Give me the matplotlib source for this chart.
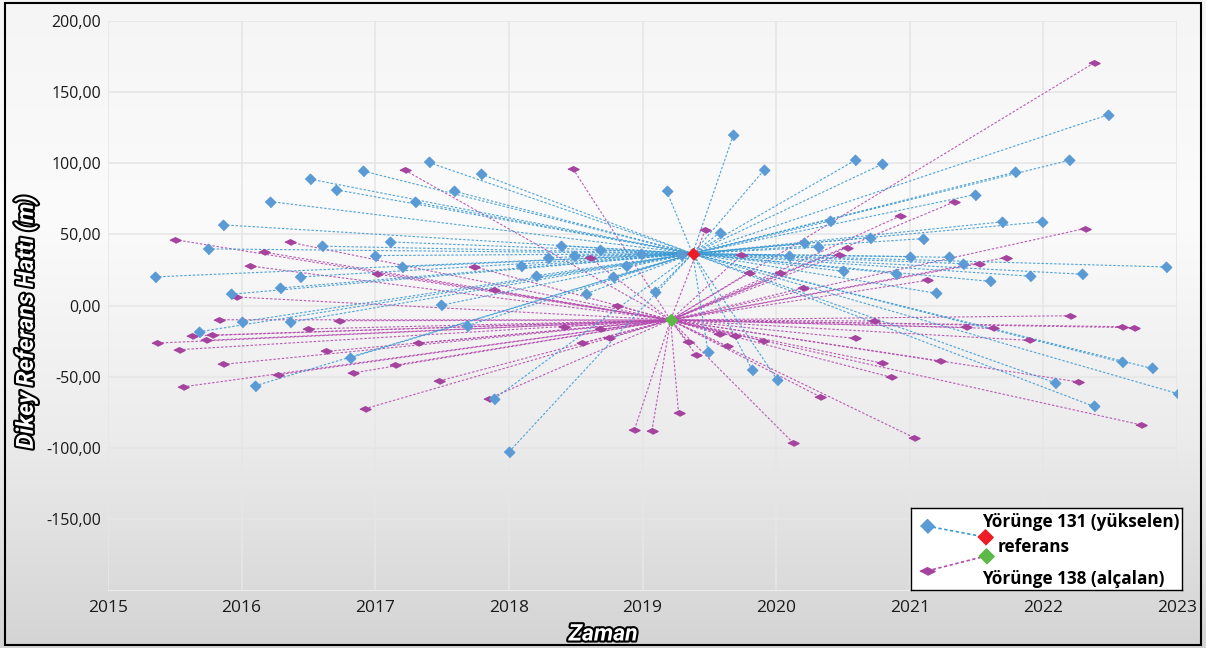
import matplotlib
import matplotlib.pyplot as plt
import matplotlib.patheffects as pe
import numpy as np
from matplotlib.collections import LineCollection
from matplotlib.colors import LinearSegmentedColormap
from matplotlib.patches import Rectangle
from matplotlib.ticker import FuncFormatter

matplotlib.use("Agg")

# reference acquisitions (decimal year, perpendicular baseline m)
ref131 = (2019.375, 36.5)
ref138 = (2019.21, -10.2)

# Yörünge 131 (yükselen)
t131 = [2017.40, 2016.91, 2017.79, 2016.51, 2016.71, 2017.59, 2017.30, 2016.21, 2015.86, 2017.11,
        2016.60, 2015.75, 2017.00, 2017.20, 2015.35, 2016.44, 2016.29, 2015.92, 2017.49, 2016.00,
        2016.36, 2017.69, 2015.68, 2016.81, 2016.10, 2017.89, 2019.68, 2019.91, 2019.18, 2020.40,
        2019.58, 2018.39, 2018.68, 2018.29, 2018.49, 2018.99, 2019.29, 2020.21, 2020.31, 2020.10,
        2018.09, 2018.88, 2018.20, 2018.78, 2020.50, 2018.58, 2019.09, 2019.49, 2019.82, 2020.01,
        2018.00, 2022.48, 2020.59, 2020.79, 2022.19, 2021.79, 2021.49, 2021.69, 2021.99, 2020.70,
        2021.10, 2021.00, 2021.29, 2021.40, 2022.92, 2020.90, 2021.60, 2021.90, 2022.29, 2021.20,
        2022.59, 2022.81, 2022.09, 2023.01, 2022.38]
b131 = [100.6, 94.5, 92.4, 88.9, 81.3, 80.4, 72.7, 73.1, 56.7, 44.7,
        41.7, 39.8, 35.1, 27.1, 20.1, 20.1, 12.3, 7.9, 0.1, -11.4,
        -11.8, -14.2, -18.5, -36.8, -56.5, -65.6, 119.9, 95.2, 80.6, 59.3,
        51.3, 41.9, 39.3, 33.7, 35.1, 36.5, 35.4, 43.8, 41.0, 35.1,
        27.8, 28.0, 21.0, 20.3, 24.1, 8.3, 9.7, -32.5, -45.4, -52.5,
        -103.0, 133.9, 102.0, 99.2, 102.0, 93.8, 78.0, 58.8, 58.8, 47.7,
        47.0, 34.4, 33.9, 29.4, 27.1, 22.4, 17.0, 20.6, 22.0, 8.6,
        -40.0, -44.2, -54.4, -62.1, -71.0]

# Yörünge 138 (alçalan)
t138 = [2017.22, 2015.50, 2016.36, 2016.17, 2016.06, 2017.74, 2017.01, 2017.89, 2015.96, 2015.83,
        2016.73, 2016.50, 2015.63, 2015.78, 2015.73, 2015.37, 2015.53, 2017.32, 2016.63, 2015.86,
        2017.15, 2016.27, 2016.83, 2015.56, 2017.48, 2017.85, 2016.92, 2018.48, 2019.47, 2019.74,
        2020.53, 2020.47, 2018.61, 2019.80, 2020.03, 2020.20, 2018.81, 2018.41, 2018.68, 2018.75,
        2018.55, 2019.34, 2019.57, 2019.69, 2019.90, 2019.63, 2019.40, 2020.33, 2019.27, 2018.94,
        2019.07, 2020.13, 2022.38, 2021.33, 2020.93, 2022.31, 2021.72, 2021.52, 2021.13, 2022.20,
        2020.73, 2021.42, 2021.62, 2022.59, 2022.68, 2020.59, 2021.89, 2021.23, 2020.79, 2020.86,
        2022.26, 2022.73, 2021.03]
b138 = [95.2, 46.3, 44.5, 37.5, 27.8, 27.3, 22.2, 10.7, 6.0, -10.0,
        -10.7, -16.5, -21.3, -21.0, -24.5, -26.4, -31.1, -26.6, -32.3, -41.4,
        -41.9, -48.7, -47.5, -57.2, -53.0, -65.4, -72.7, 96.1, 53.2, 35.4,
        40.7, 35.6, 33.2, 22.9, 22.9, 12.3, -0.1, -14.9, -16.8, -23.1,
        -26.4, -25.5, -20.1, -21.5, -24.8, -28.3, -34.6, -64.2, -75.9, -87.2,
        -88.2, -96.8, 170.6, 72.7, 63.0, 54.1, 33.7, 29.4, 17.7, -7.2,
        -10.9, -15.4, -16.1, -14.9, -15.6, -23.1, -24.5, -39.3, -40.5, -50.4,
        -53.7, -83.9, -92.8]

years = list(range(2015, 2024))
y_ticks = [-150, -100, -50, 0, 50, 100, 150, 200]

BLUE = "#5b9bd5"
BLUE_LINE = "#3b9ad4"
PURPLE = "#a5439f"
PURPLE_LINE = "#b44aae"
DIAMOND = [(-1, 0), (0, 1), (1, 0), (0, -1)]
FLAT_DIAMOND = [(-1, 0), (0, 0.5), (1, 0), (0, -0.5)]

plt.rcParams["font.family"] = ["Open Sans", "DejaVu Sans"]

W, H = 1206, 648
fig = plt.figure(figsize=(W / 100, H / 100), dpi=100)

# grey gradient behind everything
bg = fig.add_axes([0, 0, 1, 1], zorder=-10)
grad = np.linspace(0, 1, 256).reshape(-1, 1)
cmap = LinearSegmentedColormap.from_list("bg", ["#d4d4d4", "#ececec", "#fbfbfb", "#f5f5f5"])
bg.imshow(grad, aspect="auto", cmap=cmap, extent=[0, 1, 0, 1], origin="lower")
bg.axis("off")

ax = fig.add_axes([108 / W, 1 - 590 / H, (1177 - 108) / W, (590 - 21) / H])
ax.patch.set_alpha(0)
ax.set_xlim(2015, 2023)
ax.set_ylim(-200, 200)
ax.set_xticks(years)
ax.set_yticks(y_ticks)
ax.yaxis.set_major_formatter(FuncFormatter(lambda v, _: f"{v:.2f}".replace(".", ",")))
ax.grid(color="#e6e6e6", lw=1.2)
ax.set_axisbelow(True)
for side in ["top", "right", "left"]:
    ax.spines[side].set_visible(False)
ax.spines["bottom"].set_color("#ececec")
ax.tick_params(length=0, colors="#1a1a1a")
ax.tick_params(axis="x", labelsize=12.5, pad=7)
ax.tick_params(axis="y", labelsize=11.5, pad=5)

seg131 = [[(t, b), ref131] for t, b in zip(t131, b131)]
seg138 = [[(t, b), ref138] for t, b in zip(t138, b138)]
ax.add_collection(LineCollection(seg138, colors=PURPLE_LINE, linewidths=0.8,
                                 linestyles=[(0, (2.2, 1.6))], alpha=0.9, zorder=2))
ax.add_collection(LineCollection(seg131, colors=BLUE_LINE, linewidths=0.8,
                                 linestyles=[(0, (2.2, 1.6))], alpha=0.9, zorder=2))

ax.plot(t138, b138, ls="none", marker=FLAT_DIAMOND, ms=8, color=PURPLE, mec=PURPLE, zorder=3)
ax.plot(t131, b131, ls="none", marker=DIAMOND, ms=7.5, color=BLUE, mec=BLUE, zorder=4)
ax.plot(*ref131, ls="none", marker=DIAMOND, ms=8.5, color="#ee1c25", zorder=5)
ax.plot(*ref138, ls="none", marker=DIAMOND, ms=8.5, color="#5cb946", zorder=5)

outline = [pe.withStroke(linewidth=3, foreground="black")]
fig.text(26 / W, 1 - 322 / H, "Dikey Referans Hattı (m)", rotation=90, ha="center", va="center",
         fontsize=17, fontweight="bold", fontstyle="italic", color="white",
         family=["Roboto", "DejaVu Sans"], path_effects=outline)
fig.text(603 / W, 1 - 634 / H, "Zaman", ha="center", va="center",
         fontsize=16.5, fontweight="bold", fontstyle="italic", color="white",
         family=["Roboto", "DejaVu Sans"], path_effects=outline)

# legend box drawn by hand, as in the original sheet
lg = fig.add_axes([911 / W, 1 - 590 / H, 271 / W, 82 / H], zorder=10)
lg.set_xlim(0, 1)
lg.set_ylim(0, 1)
lg.set_xticks([])
lg.set_yticks([])
lg.set_facecolor("white")
for s in lg.spines.values():
    s.set_color("black")
    s.set_linewidth(1)
lg.plot([0.059, 0.273], [0.78, 0.646], color=BLUE_LINE, lw=1.2, ls=(0, (2, 1.5)))
lg.plot([0.059, 0.277], [0.232, 0.415], color=PURPLE_LINE, lw=1.2, ls=(0, (2, 1.5)))
lg.plot(0.059, 0.78, marker=DIAMOND, ms=10, color=BLUE, ls="none")
lg.plot(0.059, 0.232, marker=FLAT_DIAMOND, ms=11, color=PURPLE, ls="none")
lg.plot(0.273, 0.646, marker=DIAMOND, ms=11, color="#ee1c25", ls="none")
lg.plot(0.277, 0.415, marker=DIAMOND, ms=11, color="#5cb946", ls="none")
lg.text(0.262, 0.83, "Yörünge 131 (yükselen)", fontsize=12.3, fontweight="bold", va="center")
lg.text(0.32, 0.524, "referans", fontsize=12.3, fontweight="bold", va="center")
lg.text(0.262, 0.134, "Yörünge 138 (alçalan)", fontsize=12.3, fontweight="bold", va="center")

fig.patches.append(Rectangle((0.004, 0.005), 0.992, 0.99, transform=fig.transFigure,
                             fill=False, ec="black", lw=1.5, zorder=20))

fig.savefig("out.png", dpi=100)
